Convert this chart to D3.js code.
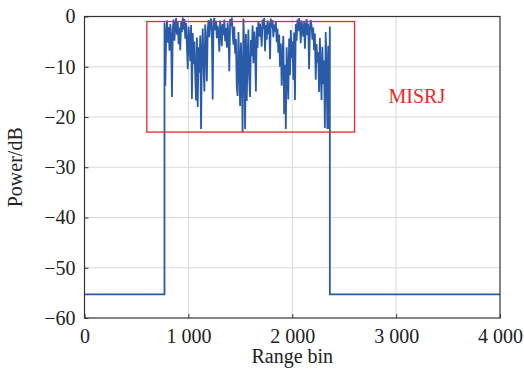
<!DOCTYPE html>
<html>
<head>
<meta charset="utf-8">
<script src="https://cdn.jsdelivr.net/npm/d3@7"></script>
<style>
  body { margin: 0; background: #fff; }
</style>
</head>
<body>
<div id="chart"></div>
<script>
// axis ticks
const xTicks = [0, 1000, 2000, 3000, 4000];
const yTicks = [0, -10, -20, -30, -40, -50, -60];

// noise floor outside the jammed region
const floorLevel = -55.3;
const rangeEnd = 4000;

// jammed region: start bin, bin step, sampled power (dB)
const noiseStart = 770;
const noiseStep = 8;
const noiseValues = [
    -1.2, -13.8, -3.5, -0.8, -5.2, -2.1, -6.8, -1.5, -4.0, -16.0,
    -2.5, -0.6, -4.8, -1.9, -0.3, -3.6, -0.9, -5.5, -2.2, -6.7,
    -1.0, -3.1, -0.2, -2.6, -0.5, -4.4, -1.3, -5.8, -10.5, -2.0,
    -4.6, -8.9, -1.7, -16.4, -3.3, -9.5, -5.0, -12.0, -16.7, -4.2,
    -18.0, -6.1, -11.2, -3.8, -22.4, -7.5, -2.4, -9.8, -14.9, -1.6,
    -5.3, -12.9, -2.8, -0.7, -4.1, -1.4, -0.4, -3.0, -16.5, -1.1,
    -0.3, -2.7, -0.9, -4.3, -1.8, -3.4, -7.0, -0.8, -2.9, -5.9,
    -1.5, -3.7, -0.6, -4.9, -2.3, -6.2, -1.2, -3.9, -10.9, -0.5,
    -1.9, -0.2, -3.2, -5.6, -2.0, -7.4, -4.5, -14.0, -15.8, -3.1,
    -9.1, -17.8, -5.2, -11.8, -23.0, -0.4, -6.6, -22.4, -3.5, -16.8,
    -8.2, -2.6, -12.4, -16.0, -4.7, -7.9, -1.8, -9.3, -3.0, -5.7,
    -14.9, -2.1, -6.3, -0.9, -4.0, -1.4, -3.3, -6.0, -0.6, -2.5,
    -0.3, -6.9, -1.7, -4.6, -0.8, -3.5, -1.2, -8.5, -0.4, -2.2,
    -0.7, -4.1, -1.6, -3.0, -0.9, -5.1, -2.4, -7.2, -3.6, -10.0,
    -5.4, -13.8, -8.0, -3.9, -19.4, -9.6, -22.4, -6.1, -11.5, -16.5,
    -4.4, -11.7, -2.7, -8.3, -5.0, -12.6, -3.2, -16.6, -1.5, -4.8,
    -0.6, -2.9, -0.3, -1.8, -5.3, -0.8, -2.4, -4.0, -1.1, -6.4,
    -2.0, -0.5, -3.7, -1.4, -10.5, -2.8, -0.7, -1.9, -4.6, -2.2,
    -6.7, -3.4, -12.6, -5.5, -9.2, -7.1, -15.0, -4.3, -11.0, -16.6,
    -6.0, -13.5, -8.7, -22.2, -3.1, -10.4, -22.4, -5.8, -22.4, -2.0
];

// annotation box and label
const boxBins = [600, 2600];
const boxPower = [-1, -23];
const boxLabel = "MISRJ";
const labelPos = [3200, -17.2];

const serif = "Liberation Serif";

const width = 524, height = 370;
const margin = { top: 16.5, right: 24, bottom: 52, left: 84.5 };
const innerW = width - margin.left - margin.right;
const innerH = height - margin.top - margin.bottom;

const svg = d3.select("#chart").append("svg")
    .attr("width", width)
    .attr("height", height)
    .attr("font-family", serif);

const g = svg.append("g")
    .attr("transform", "translate(" + margin.left + "," + margin.top + ")");

const x = d3.scaleLinear().domain([0, rangeEnd]).range([0, innerW]);
const y = d3.scaleLinear().domain([-60, 0]).range([innerH, 0]);

// grid
g.append("g").selectAll("line")
    .data(xTicks.slice(1, -1))
    .enter().append("line")
    .attr("x1", d => x(d)).attr("x2", d => x(d))
    .attr("y1", 0).attr("y2", innerH)
    .style("stroke", "#d9d9d9").style("stroke-width", 1);

g.append("g").selectAll("line")
    .data(yTicks.slice(1, -1))
    .enter().append("line")
    .attr("x1", 0).attr("x2", innerW)
    .attr("y1", d => y(d)).attr("y2", d => y(d))
    .style("stroke", "#d9d9d9").style("stroke-width", 1);

// build the trace: floor, jammed region, floor
const points = [];
points.push({ bin: 0, p: floorLevel });
points.push({ bin: noiseStart, p: floorLevel });
noiseValues.forEach((v, i) => points.push({ bin: noiseStart + i * noiseStep, p: v }));
const noiseEnd = noiseStart + (noiseValues.length - 1) * noiseStep;
points.push({ bin: noiseEnd, p: floorLevel });
points.push({ bin: rangeEnd, p: floorLevel });

const line = d3.line()
    .x(d => x(d.bin))
    .y(d => y(d.p));

g.append("path")
    .datum(points)
    .attr("d", line)
    .style("fill", "none")
    .style("stroke", "#2a5ba8")
    .style("stroke-width", 1.8)
    .style("stroke-linejoin", "miter");

// annotation box
g.append("rect")
    .attr("x", x(boxBins[0]))
    .attr("y", y(boxPower[0]))
    .attr("width", x(boxBins[1]) - x(boxBins[0]))
    .attr("height", y(boxPower[1]) - y(boxPower[0]))
    .style("fill", "none")
    .style("stroke", "#f0262a")
    .style("stroke-width", 1.3);

g.append("text")
    .attr("x", x(labelPos[0]))
    .attr("y", y(labelPos[1]))
    .attr("text-anchor", "middle")
    .style("font-family", serif)
    .style("font-size", "20px")
    .style("fill", "#f0262a")
    .text(boxLabel);

// axes
const fmt = d => {
    const s = d3.format(",")(Math.abs(d)).replace(/,/g, " ");
    return (d < 0 ? "\u2212" : "") + s;
};

const xAxis = d3.axisBottom(x).tickValues(xTicks).tickSizeInner(-4).tickSizeOuter(0)
    .tickPadding(11)
    .tickFormat(fmt);
const yAxis = d3.axisLeft(y).tickValues(yTicks).tickSizeInner(-4).tickSizeOuter(0)
    .tickPadding(9)
    .tickFormat(fmt);

const gx = g.append("g")
    .attr("transform", "translate(0," + innerH + ")")
    .call(xAxis);
const gy = g.append("g").call(yAxis);

[gx, gy].forEach(ax => {
    ax.attr("font-family", serif);
    ax.select(".domain").remove();
    ax.selectAll("line").style("stroke", "#333");
    ax.selectAll("text")
        .style("font-family", serif)
        .style("font-size", "20px")
        .style("fill", "#222");
});

// frame
g.append("rect")
    .attr("width", innerW)
    .attr("height", innerH)
    .style("fill", "none")
    .style("stroke", "#333")
    .style("stroke-width", 1.2);

// axis titles
svg.append("text")
    .attr("x", margin.left + innerW / 2)
    .attr("y", 363)
    .attr("text-anchor", "middle")
    .style("font-family", serif)
    .style("font-size", "20px")
    .style("fill", "#222")
    .text("Range bin");

svg.append("text")
    .attr("transform", "translate(22," + (margin.top + innerH / 2) + ") rotate(-90)")
    .attr("text-anchor", "middle")
    .style("font-family", serif)
    .style("font-size", "20px")
    .style("fill", "#222")
    .text("Power/dB");
</script>
</body>
</html>
